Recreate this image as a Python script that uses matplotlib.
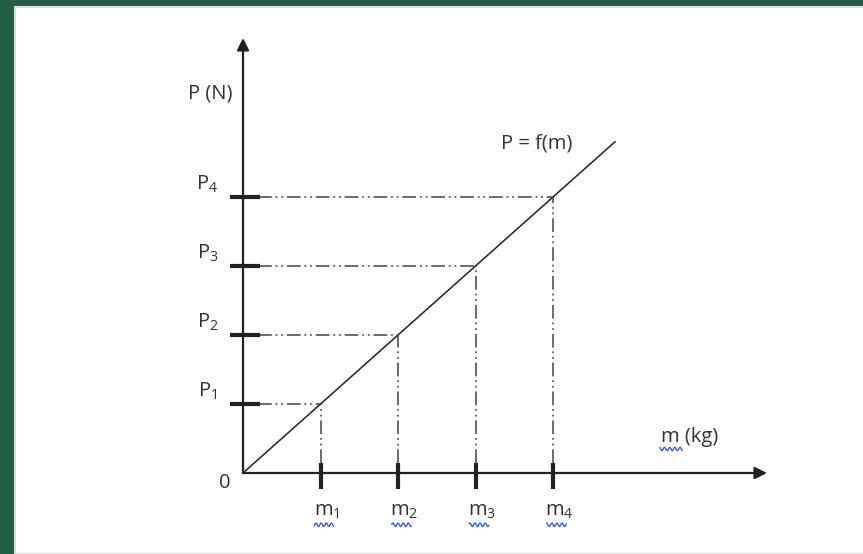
import numpy as np
import matplotlib
matplotlib.use("Agg")
import matplotlib.pyplot as plt
from matplotlib.patches import Rectangle

# Values plotted (P = f(m) is proportional, so P_i sits on the line above m_i)
masses = [1.0, 2.0, 3.0, 4.0]
weights = [1.0, 2.0, 3.0, 4.0]
mass_labels = ["m$_1$", "m$_2$", "m$_3$", "m$_4$"]
weight_labels = ["P$_1$", "P$_2$", "P$_3$", "P$_4$"]
line_end = 4.8

plt.rcParams["font.family"] = ["Open Sans", "DejaVu Sans"]
plt.rcParams["mathtext.fontset"] = "custom"
plt.rcParams["mathtext.rm"] = "Open Sans"
plt.rcParams["mathtext.it"] = "Open Sans"

W, H = 863, 554
ox, oy = 243, 473          # origin in pixels
sx, sy = 77.5, 69.0        # pixels per unit

fig = plt.figure(figsize=(W / 100, H / 100), dpi=100)
fig.patch.set_facecolor("#235f45")
ax = fig.add_axes([0, 0, 1, 1])
ax.set_xlim(-ox / sx, (W - ox) / sx)
ax.set_ylim(-(H - oy) / sy, oy / sy)
ax.axis("off")
ax.patch.set_alpha(0)

# white slide panel
ax.add_patch(Rectangle((15 / W, 0), 1, 1 - 7 / H, transform=ax.transAxes,
                       facecolor="white", edgecolor="#d8e0dc", lw=1.5, zorder=0))

ink = "#222222"
txt = "#333333"
fs = 14.5
dash = (0, (9, 2.5, 1.2, 2.5, 1.2, 2.5))

# axes with arrowheads
ax.annotate("", xy=((767 - ox) / sx, 0), xytext=(0, 0),
            arrowprops=dict(arrowstyle="-|>", lw=1.6, color=ink, mutation_scale=18,
                            shrinkA=0, shrinkB=0))
ax.annotate("", xy=(0, (oy - 38) / sy), xytext=(0, 0),
            arrowprops=dict(arrowstyle="-|>", lw=1.6, color=ink, mutation_scale=18,
                            shrinkA=0, shrinkB=0))

# P = f(m)
ax.plot([0, line_end], [0, line_end], color=ink, lw=1.1)

# projections and tick marks
for m, p in zip(masses, weights):
    ax.plot([0.19, m], [p, p], color="#444444", lw=1.1, linestyle=dash)
    ax.plot([m, m], [0.14, p], color="#444444", lw=1.1, linestyle=dash)
for p, lab in zip(weights, weight_labels):
    ax.plot([-0.17, 0.22], [p, p], color=ink, lw=3, solid_capstyle="butt")
    ax.text(-0.46, p + 0.19, lab, fontsize=fs, color=txt, ha="center", va="center")

for m, lab in zip(masses, mass_labels):
    ax.plot([m, m], [-0.23, 0.15], color=ink, lw=3, solid_capstyle="butt")
    ax.text(m + 0.08, -0.55, lab, fontsize=fs, color=txt, ha="center", va="center")
    # spell-check squiggle under the "m"
    xs = np.linspace(m - 0.08, m + 0.17, 40)
    ax.plot(xs, -0.75 + 0.025 * np.sin(xs * 95), color="#3b5bdb", lw=1.0)

ax.text(-0.24, -0.15, "0", fontsize=fs, color=txt, ha="center", va="center")
ax.text((210 - ox) / sx, (oy - 93) / sy, "P (N)", fontsize=fs, color=txt,
        ha="center", va="center")
ax.text((690 - ox) / sx, (oy - 437) / sy, "m (kg)", fontsize=fs, color=txt,
        ha="center", va="center")
xs = np.linspace((660 - ox) / sx, (682 - ox) / sx, 40)
ax.plot(xs, (oy - 449) / sy + 0.025 * np.sin(xs * 95), color="#3b5bdb", lw=1.0)
ax.text((537 - ox) / sx, (oy - 143) / sy, "P = f(m)", fontsize=fs, color=txt,
        ha="center", va="center")

fig.savefig("out.png", dpi=100, facecolor=fig.get_facecolor())
